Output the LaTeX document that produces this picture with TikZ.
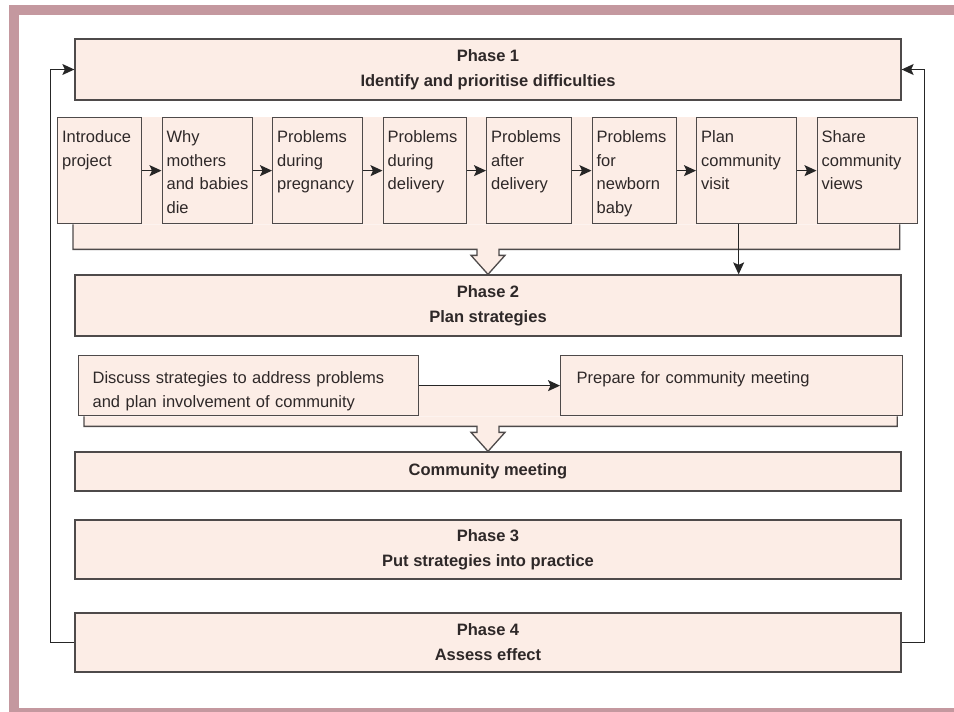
\documentclass[tikz,border=0pt]{standalone}
\usepackage{fontspec}
\setmainfont{Liberation Sans}
\usepackage{tikz}
\usetikzlibrary{positioning, arrows.meta, backgrounds}

\definecolor{framec}{HTML}{C4989F}
\definecolor{boxfill}{HTML}{FCEDE6}
\definecolor{edgegray}{HTML}{4E4A4A}
\definecolor{inkc}{HTML}{2E2828}

\newcommand{\stepfont}{\fontsize{16.5}{23.5}\selectfont\hyphenpenalty=10000 }
\newcommand{\phasefont}{\bfseries\fontsize{16.5}{25}\selectfont}

\begin{document}
\begin{tikzpicture}[x=1pt, y=-1pt, >={Stealth[length=12pt,width=11pt,inset=2.5pt]},
    rect/.style={draw=edgegray, fill=boxfill, line width=1.3pt, text=inkc},
    phase/.style={rect, font=\phasefont, align=center, minimum width=826pt},
    stepbox/.style={rect, font=\stepfont, align=left, text width=#1, inner xsep=4.5pt, inner ysep=4pt, text height=21pt, text depth=77pt},
    taskbox/.style={rect, font=\stepfont, align=left, text width=#1, inner ysep=4pt, text height=24pt, text depth=28pt},
    link/.style={draw=black!85, line width=1.2pt},
    bracket/.style={draw=edgegray, fill=boxfill, line width=1.3pt}]

    \useasboundingbox (0,0) rectangle (954,712);

    % Frame
    \fill[framec] (9,5) rectangle (954,15);
    \fill[framec] (9,5) rectangle (19,712);
    \fill[framec] (9,708) rectangle (954,712);

    % Phase boxes
    \node (phase1) [phase, minimum height=61pt] at (488,69.5) {Phase 1\\Identify and prioritise difficulties};
    \node (phase2) [phase, minimum height=61pt] at (488,305.5) {Phase 2\\Plan strategies};
    \node (meeting) [phase, minimum height=39pt] at (488,471.5) {Community meeting};
    \node (phase3) [phase, minimum height=59pt] at (488,549.5) {Phase 3\\Put strategies into practice};
    \node (phase4) [phase, minimum height=59pt] at (488,642.5) {Phase 4\\Assess effect};

    % Phase 1 steps
    \node (intro) [stepbox=75pt, anchor=north west] at (57,117) {Introduce\\project};
    \node (why) [stepbox=81pt, right=19.2pt of intro] {Why\\mothers\\and~babies\\die};
    \node (pregnancy) [stepbox=81pt, right=19.2pt of why] {Problems\\during\\pregnancy};
    \node (during) [stepbox=74pt, right=19.2pt of pregnancy] {Problems\\during\\delivery};
    \node (after) [stepbox=76pt, right=19.2pt of during] {Problems\\after\\delivery};
    \node (newborn) [stepbox=75pt, right=19.2pt of after] {Problems\\for\\newborn\\baby};
    \node (plan) [stepbox=91pt, right=19.2pt of newborn] {Plan\\community\\visit};
    \node (share) [stepbox=91pt, right=19.2pt of plan] {Share\\community\\views};

    % Phase 2 tasks
    \node (discuss) [taskbox=312pt, inner xsep=14pt, anchor=north west] at (78,355) {Discuss strategies to address problems\\and plan involvement of community};
    \node (prepare) [taskbox=310pt, inner xsep=16pt, right=140.7pt of discuss] {Prepare for community meeting};

    % Brackets with open arrows
    \begin{scope}[on background layer]
        \fill[boxfill] ([xshift=16pt]intro.north west) rectangle ([xshift=-18pt]share.south east);
        \draw[bracket] ([xshift=16pt]intro.south west) |- ([shift={(-11,-25)}]phase2.north) -- ++(0,6) -- ++(-6,0) -- (phase2.north) -- ++(17,-19) -- ++(-6,0) -- ++(0,-6) -| ([xshift=-18pt]share.south east);
        \fill[boxfill] ([xshift=6pt]discuss.west) rectangle ([xshift=-6pt]prepare.south east);
        \draw[bracket] ([xshift=6pt]discuss.south west) |- ([shift={(-11,-25)}]meeting.north) -- ++(0,6) -- ++(-6,0) -- (meeting.north) -- ++(17,-19) -- ++(-6,0) -- ++(0,-6) -| ([xshift=-6pt]prepare.south east);
    \end{scope}

    % Draw arrows
    \draw[link, ->] (intro) -- (why);
    \draw[link, ->] (why) -- (pregnancy);
    \draw[link, ->] (pregnancy) -- (during);
    \draw[link, ->] (during) -- (after);
    \draw[link, ->] (after) -- (newborn);
    \draw[link, ->] (newborn) -- (plan);
    \draw[link, ->] (plan) -- (share);
    \draw[link, ->] ([xshift=-8pt]plan.south) -- ([xshift=-8pt]plan.south |- phase2.north);
    \draw[link, ->] (discuss) -- (prepare);

    % Feedback loops
    \draw[link, ->] (phase4.west) -- ++(-24,0) |- (phase1.west);
    \draw[link, ->] (phase4.east) -- ++(23,0) |- (phase1.east);

\end{tikzpicture}
\end{document}
